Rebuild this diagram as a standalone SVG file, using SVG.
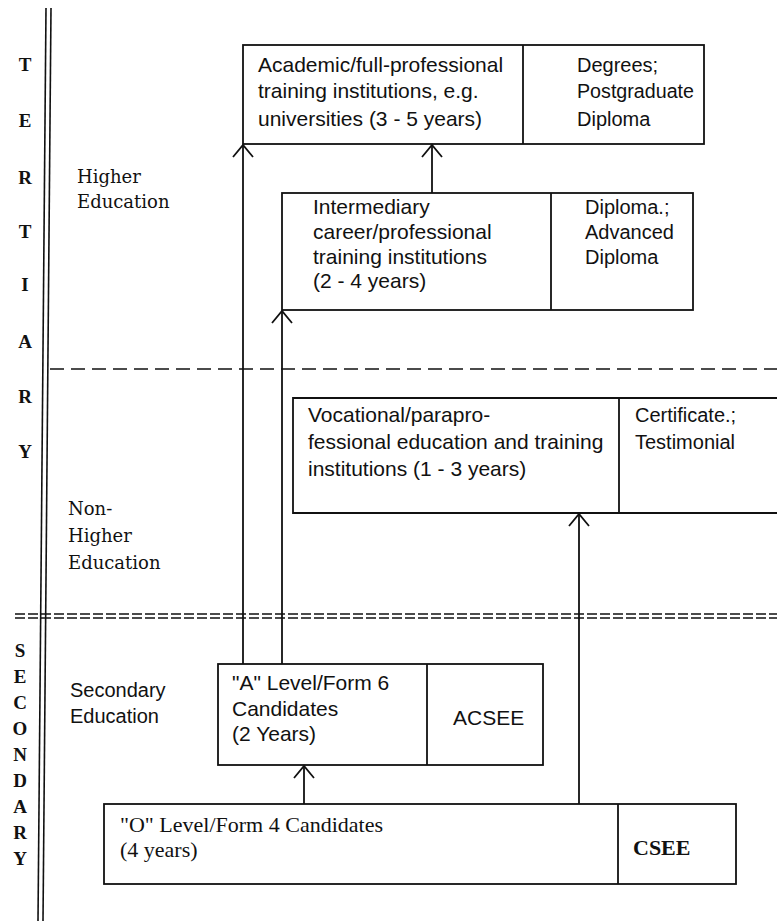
<svg xmlns="http://www.w3.org/2000/svg" width="777" height="921" viewBox="0 0 777 921">
<defs>
<style>
.box{fill:none;stroke:#111;stroke-width:1.8}
.div{stroke:#111;stroke-width:1.8}
.con{stroke:#111;stroke-width:1.8;fill:none}
.t{font-family:"Liberation Sans",Arial,sans-serif;font-size:21px;fill:#111}
.r{font-family:"Liberation Sans",Arial,sans-serif;font-size:20px;fill:#111}
.sec{font-family:"Liberation Sans",Arial,sans-serif;font-size:20px;fill:#111}
.lab{font-family:"DejaVu Serif",serif;font-size:18px;fill:#111}
.let{font-family:"Liberation Serif","Times New Roman",serif;font-size:19px;fill:#111;text-anchor:middle;font-weight:bold}
.tm{font-family:"Liberation Serif","Times New Roman",serif;font-size:22px;fill:#111}
.rule{stroke:#111;stroke-width:1.6;fill:none}
</style>
<marker id="arr" markerUnits="userSpaceOnUse" viewBox="-14 -12 16 24" refX="0" refY="0" markerWidth="16" markerHeight="24" orient="auto" overflow="visible">
<path d="M -12 -10 L 0 0 L -12 10" fill="none" stroke="#111" stroke-width="1.8"/>
</marker>
</defs>
<rect width="777" height="921" fill="#fff"/>

<g id="frame">
<line class="rule" x1="46" y1="8" x2="38" y2="921"/>
<line class="rule" x1="51" y1="8" x2="43" y2="921"/>
<line class="rule" x1="50" y1="369" x2="777" y2="369" stroke-dasharray="14 7"/>
<line class="rule" x1="15" y1="614" x2="777" y2="614" stroke-dasharray="10 3" stroke-width="1.3"/>
<line class="rule" x1="15" y1="618" x2="777" y2="618" stroke-dasharray="10 3" stroke-width="1.3"/>
</g>

<g id="tertiary-label">
<text class="let" x="25" y="71">T</text>
<text class="let" x="25" y="127">E</text>
<text class="let" x="25" y="184">R</text>
<text class="let" x="25" y="238">T</text>
<text class="let" x="25" y="291">I</text>
<text class="let" x="25" y="348">A</text>
<text class="let" x="25" y="403">R</text>
<text class="let" x="25" y="458">Y</text>
</g>

<g id="secondary-label">
<text class="let" x="20" y="657">S</text>
<text class="let" x="20" y="683">E</text>
<text class="let" x="20" y="709">C</text>
<text class="let" x="20" y="735">O</text>
<text class="let" x="20" y="761">N</text>
<text class="let" x="20" y="787">D</text>
<text class="let" x="20" y="813">A</text>
<text class="let" x="20" y="839">R</text>
<text class="let" x="20" y="865">Y</text>
</g>

<g id="higher-education">
<text class="lab" x="77" y="183">Higher</text>
<text class="lab" x="77" y="208">Education</text>
</g>

<g id="non-higher-education">
<text class="lab" x="68" y="515">Non-</text>
<text class="lab" x="68" y="542">Higher</text>
<text class="lab" x="68" y="569">Education</text>
</g>

<g id="secondary-education">
<text class="sec" x="70" y="697">Secondary</text>
<text class="sec" x="70" y="723">Education</text>
</g>

<g id="academic">
<rect class="box" x="243" y="45" width="461" height="99"/>
<line class="div" x1="523" y1="45" x2="523" y2="144"/>
<text class="t" x="258" y="72">Academic/full-professional</text>
<text class="t" x="258" y="98">training institutions, e.g.</text>
<text class="t" x="258" y="126">universities (3 - 5 years)</text>
<text class="r" x="577" y="72">Degrees;</text>
<text class="r" x="577" y="98" textLength="117" lengthAdjust="spacingAndGlyphs">Postgraduate</text>
<text class="r" x="577" y="126">Diploma</text>
</g>

<g id="intermediary">
<rect class="box" x="282" y="193" width="411" height="117"/>
<line class="div" x1="551" y1="193" x2="551" y2="310"/>
<text class="t" x="313" y="214">Intermediary</text>
<text class="t" x="313" y="239">career/professional</text>
<text class="t" x="313" y="264">training institutions</text>
<text class="t" x="313" y="288">(2 - 4 years)</text>
<text class="r" x="585" y="214">Diploma.;</text>
<text class="r" x="585" y="239">Advanced</text>
<text class="r" x="585" y="264">Diploma</text>
</g>

<g id="vocational">
<path class="box" d="M 790 398 L 293 398 L 293 513 L 790 513"/>
<line class="div" x1="619" y1="398" x2="619" y2="513"/>
<text class="t" x="308" y="422">Vocational/parapro-</text>
<text class="t" x="308" y="449">fessional education and training</text>
<text class="t" x="308" y="476">institutions (1 - 3 years)</text>
<text class="r" x="635" y="422">Certificate.;</text>
<text class="r" x="635" y="449">Testimonial</text>
</g>

<g id="a-level">
<rect class="box" x="218" y="664" width="325" height="101"/>
<line class="div" x1="427" y1="664" x2="427" y2="765"/>
<text class="t" x="232" y="690">"A" Level/Form 6</text>
<text class="t" x="232" y="716">Candidates</text>
<text class="t" x="232" y="741">(2 Years)</text>
<text class="t" x="453" y="725">ACSEE</text>
</g>

<g id="o-level">
<rect class="box" x="104" y="804" width="632" height="80"/>
<line class="div" x1="618" y1="804" x2="618" y2="884"/>
<text class="tm" x="120" y="832">"O" Level/Form 4 Candidates</text>
<text class="tm" x="120" y="857">(4 years)</text>
<text class="tm" x="633" y="855" font-weight="bold">CSEE</text>
</g>

<g id="connectors">
<line class="con" x1="243" y1="664" x2="243" y2="145" marker-end="url(#arr)"/>
<line class="con" x1="282" y1="664" x2="282" y2="311" marker-end="url(#arr)"/>
<line class="con" x1="432" y1="193" x2="432" y2="145" marker-end="url(#arr)"/>
<line class="con" x1="579" y1="804" x2="579" y2="514" marker-end="url(#arr)"/>
<line class="con" x1="304" y1="804" x2="304" y2="766" marker-end="url(#arr)"/>
</g>
</svg>
